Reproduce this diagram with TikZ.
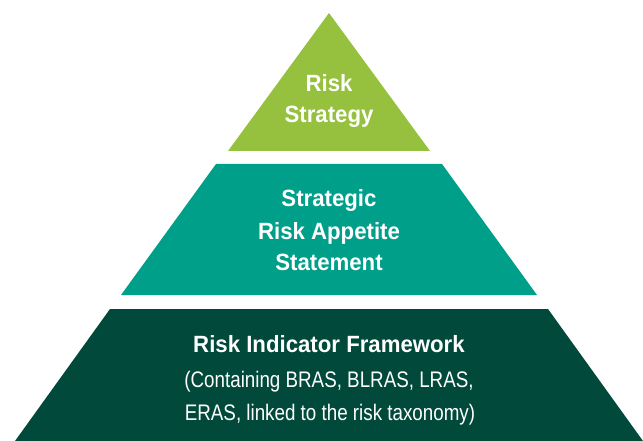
\documentclass[tikz,border=0pt]{standalone}
\usepackage{fontspec}
\newfontfamily\hbold{Liberation Sans}[FakeStretch=0.945]
\newfontfamily\hreg{Liberation Sans}[FakeStretch=0.835]
\definecolor{lightgreen}{RGB}{149,193,62}
\definecolor{teal}{RGB}{0,159,137}
\definecolor{darkgreen}{RGB}{0,73,59}
\begin{document}
\begin{tikzpicture}[x=1pt,y=-1pt,
  layer/.style={draw=none},
  boldtxt/.style={text=white,inner sep=0pt,anchor=base,font=\hbold\bfseries\fontsize{23.5}{28}\selectfont},
  regtxt/.style={text=white,inner sep=0pt,anchor=base,font=\hreg\fontsize{22.5}{27}\selectfont}]
\useasboundingbox (0,0) rectangle (643,441);
% layers
\fill[lightgreen] (329,13) -- (430,151) -- (228,151) -- cycle;
\fill[teal] (216,164) -- (442,164) -- (537,295) -- (121,295) -- cycle;
\fill[darkgreen] (110,309) -- (548,309) -- (643,441) -- (15,441) -- cycle;
% texts
\node[boldtxt] (t1) at (329,92) {Risk};
\node[boldtxt] (t2) at (329,123) {Strategy};
\node[boldtxt] (m1) at (329,207) {Strategic};
\node[boldtxt] (m2) at (329,239) {Risk Appetite};
\node[boldtxt] (m3) at (329,270) {Statement};
\node[boldtxt] (b1) at (329,352) {Risk Indicator Framework};
\node[regtxt] (b2) at (329,387) {(Containing BRAS, BLRAS, LRAS,};
\node[regtxt] (b3) at (330,420) {ERAS, linked to the risk taxonomy)};
\end{tikzpicture}
\end{document}
